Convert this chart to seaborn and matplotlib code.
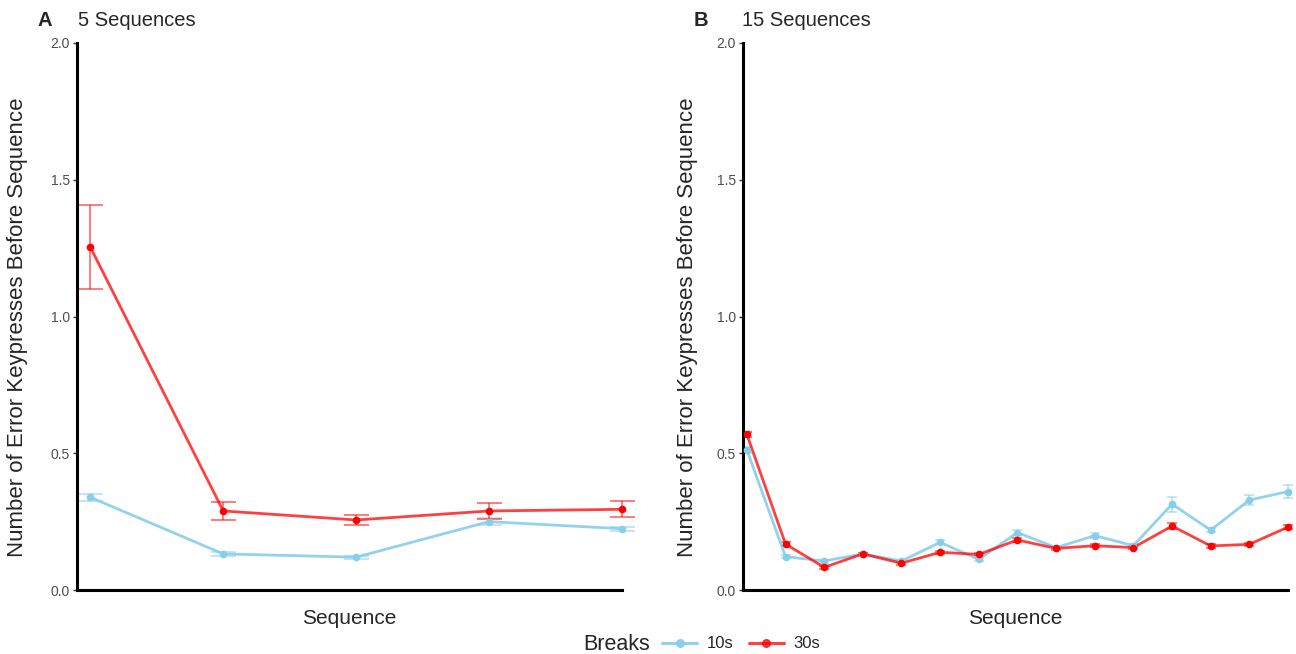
import numpy as np
import pandas as pd
import matplotlib
matplotlib.use("Agg")
import matplotlib.pyplot as plt
import seaborn as sns
from matplotlib.lines import Line2D

# 5 sequences (panel A)
seq_a = [1, 2, 3, 4, 5]
a_10s = [0.339, 0.132, 0.120, 0.250, 0.224]
a_10s_se = [0.012, 0.007, 0.006, 0.012, 0.007]
a_30s = [1.254, 0.289, 0.256, 0.289, 0.295]
a_30s_se = [0.155, 0.033, 0.020, 0.029, 0.029]

# 15 sequences (panel B)
seq_b = list(range(1, 16))
b_10s = [0.512, 0.122, 0.106, 0.132, 0.106, 0.174, 0.112, 0.210,
         0.155, 0.199, 0.162, 0.314, 0.219, 0.329, 0.360]
b_10s_se = [0.010, 0.006, 0.005, 0.005, 0.005, 0.007, 0.006, 0.008,
            0.006, 0.008, 0.006, 0.027, 0.008, 0.020, 0.023]
b_30s = [0.569, 0.168, 0.083, 0.132, 0.098, 0.138, 0.130, 0.183,
         0.152, 0.162, 0.155, 0.234, 0.161, 0.167, 0.230]
b_30s_se = [0.010, 0.008, 0.005, 0.005, 0.005, 0.006, 0.005, 0.007,
            0.006, 0.006, 0.006, 0.010, 0.006, 0.006, 0.008]

breaks = ["10s", "30s"]
colors = {"10s": "#87CEEB", "30s": "#FF0000"}
line_alpha = {"10s": 0.9, "30s": 0.75}

sns.set_theme(style="white")
plt.rcParams['font.family'] = ['Liberation Sans', 'DejaVu Sans']

fig = plt.figure(figsize=(12.96, 6.54), dpi=100)
W, H = 1296, 654
ax_a = fig.add_axes([77 / W, (654 - 590) / H, 545 / W, 547 / H])
ax_b = fig.add_axes([743 / W, (654 - 590) / H, 545 / W, 547 / H])


def draw(ax, seq, v10, s10, v30, s30, cap):
    for b, v, s in [("10s", v10, s10), ("30s", v30, s30)]:
        ax.errorbar(seq, v, yerr=s, fmt="none", ecolor=colors[b], alpha=0.6,
                    elinewidth=1.2, capsize=cap, capthick=1.2, clip_on=False, zorder=2)
    for b, v in [("10s", v10), ("30s", v30)]:
        d = pd.DataFrame({"Sequence": seq, "value": v})
        sns.lineplot(data=d, x="Sequence", y="value", color=colors[b],
                     linewidth=2.0, alpha=line_alpha[b], ax=ax, zorder=3)
        ax.plot(seq, v, "o", color=colors[b], ms=5.5, mew=0, zorder=4, clip_on=False)
    n = len(seq)
    ax.set_xlim(0.9, n)
    ax.set_ylim(0, 2.0)
    ax.set_yticks([0.0, 0.5, 1.0, 1.5, 2.0])
    ax.set_yticklabels(["0.0", "0.5", "1.0", "1.5", "2.0"])
    ax.set_xticks([])
    ax.tick_params(axis="y", labelsize=10, labelcolor="#4D4D4D", length=3,
                   width=1, color="#333333", left=True, pad=2)
    for side in ["top", "right"]:
        ax.spines[side].set_visible(False)
    for side in ["left", "bottom"]:
        ax.spines[side].set_linewidth(2.2)
        ax.spines[side].set_color("black")
    ax.set_xlabel("Sequence", fontsize=15, labelpad=14)
    ax.set_ylabel("")
    ax.patch.set_alpha(0)
    return ax


draw(ax_a, seq_a, a_10s, a_10s_se, a_30s, a_30s_se, 9)
draw(ax_b, seq_b, b_10s, b_10s_se, b_30s, b_30s_se, 3.5)

fig.text(38 / W, 1 - 20 / H, "A", fontsize=14.5, fontweight="bold", va="center", ha="left")
fig.text(78 / W, 1 - 20 / H, "5 Sequences", fontsize=14.5, va="center", ha="left")
fig.text(694 / W, 1 - 20 / H, "B", fontsize=14.5, fontweight="bold", va="center", ha="left")
fig.text(742 / W, 1 - 20 / H, "15 Sequences", fontsize=14.5, va="center", ha="left")

ylab = "Number of Error Keypresses Before Sequence"
fig.text(18 / W, 1 - 327 / H, ylab, rotation=90, fontsize=16, va="center", ha="center")
fig.text(688 / W, 1 - 327 / H, ylab, rotation=90, fontsize=16, va="center", ha="center")

# legend at the bottom
fig.text(583 / W, 1 - 644 / H, "Breaks", fontsize=15.5, va="center", ha="left")
handles = [Line2D([], [], color=colors[b], marker="o", ms=5.5, lw=2.2, alpha=line_alpha[b])
           for b in breaks]
fig.legend(handles, breaks, loc="center left", bbox_to_anchor=(662 / W, 1 - 644 / H),
           ncol=2, frameon=False, fontsize=12, handlelength=2.1, handletextpad=0.6,
           columnspacing=0.9, borderaxespad=0, borderpad=0)

fig.savefig("out.png", dpi=100)
